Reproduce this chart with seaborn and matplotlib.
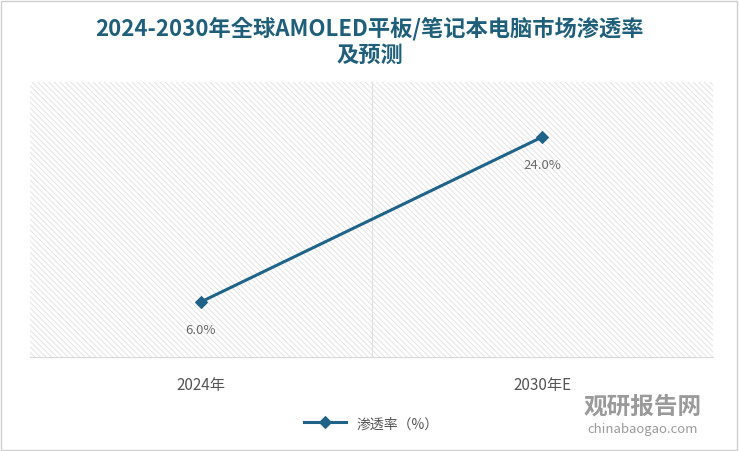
import matplotlib
matplotlib.use("Agg")
import matplotlib.pyplot as plt
from matplotlib import font_manager as fm
import seaborn as sns
import pandas as pd
from matplotlib.patches import Rectangle

cjk = None
for f in fm.fontManager.ttflist:
    if "CJK" in f.name and "Sans" in f.name and "Serif" not in f.name:
        if cjk is None or "SC" in f.name:
            cjk = f.name
plt.rcParams["font.family"] = [cjk or "Noto Sans CJK SC", "DejaVu Sans"]
plt.rcParams["hatch.linewidth"] = 0.7

categories = ["2024年", "2030年E"]
values = [6.0, 24.0]
series_name = "渗透率（%）"
title = "2024-2030年全球AMOLED平板/笔记本电脑市场渗透率\n及预测"

df = pd.DataFrame({"cat": categories, "val": values, "s": series_name})
color = "#1f6488"

fig = plt.figure(figsize=(7.39, 4.52), dpi=100)
ax = fig.add_axes([30/739, 1-358/452, 683/739, 275/452])
ax.add_patch(Rectangle((0, 0), 1, 1, transform=ax.transAxes, facecolor="white",
                       edgecolor="#e4e4e4", linewidth=0, hatch="\\\\\\\\\\\\", zorder=0))
x = list(range(len(categories)))
df["x"] = x
sns.lineplot(data=df, x="x", y="val", hue="s", palette=[color], marker="D",
             markersize=6, linewidth=2.2, markeredgecolor=color, ax=ax, zorder=3)
for xi, v in zip(x, values):
    ax.annotate(f"{v:.1f}%", (xi, v), xytext=(0, -22), textcoords="offset points",
                ha="center", fontsize=9.5, color="#6b6b6b")
ax.set_xlim(-0.5, 1.5)
ax.set_ylim(0, 30)
ax.set_xticks(x)
ax.set_xticklabels(categories, fontsize=11, color="#555555")
ax.tick_params(axis="x", length=0, pad=14)
ax.set_yticks([])
ax.axvline(0.5, color="#e0e0e0", lw=0.8, zorder=1)
ax.set_xlabel(""); ax.set_ylabel("")
for s in ax.spines.values():
    s.set_visible(False)
ax.spines["bottom"].set_visible(True)
ax.spines["bottom"].set_color("#d9d9d9")
leg = ax.legend(loc="upper center", bbox_to_anchor=(0.5, -0.17), frameon=False,
                fontsize=10, handlelength=3)
for t in leg.get_texts():
    t.set_color("#555555")
fig.text(0.5, 1-42/452, title, ha="center", va="center", fontsize=16,
         fontweight="bold", color="#1f5f7a", linespacing=1.2)
fig.text(0.87, 1-407/452, "观研报告网", ha="center", va="center", fontsize=17,
         fontweight="bold", color="#9a9a9a")
fig.text(0.87, 1-430/452, "chinabaogao.com", ha="center", va="center", fontsize=9.5,
         color="#9a9a9a")
fig.add_artist(Rectangle((0.002, 0.003), 0.995, 0.993, transform=fig.transFigure,
                         fill=False, edgecolor="#d0d0d0", lw=1))
fig.savefig("out.png", dpi=100)
